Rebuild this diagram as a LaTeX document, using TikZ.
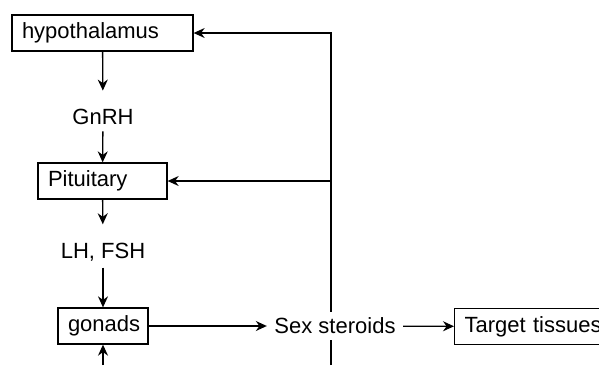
\documentclass[tikz,border=0pt]{standalone}
\usepackage{fontspec}
\setmainfont{Liberation Sans}
\usetikzlibrary{arrows.meta,positioning}

\begin{document}
\begin{tikzpicture}[
  x=0.5pt, y=-0.5pt,
  every node/.style={font=\fontsize{11}{13}\selectfont},
  organ/.style={draw, line width=0.65pt, minimum height=18pt,
                inner xsep=5pt, align=left},
  hormone/.style={inner xsep=3.5pt, inner ysep=3pt},
  line width=0.65pt,
  >={Stealth[length=5.5pt,width=5pt]}
]
\useasboundingbox (0,0) rectangle (599,365);

\node[organ, text width=80.5pt] (hyp) at (102.5,33) {hypothalamus};
\node[hormone] (gnrh) at (103,117) {GnRH};
\node[organ, text width=54.5pt] (pit) at (102.5,181) {Pituitary};
\node[hormone] (lhfsh) at (103,252) {LH, FSH};
\node[organ, text width=35pt, align=center] (gon) at (103,326) {gonads};

% feedback loop
\coordinate (fb) at (331,365);
\coordinate (gin) at (103,365);
\draw[->] (fb) |- (hyp.east);
\draw[->] (fb |- pit.east) -- (pit.east);

\node[hormone, fill=white] (ster) at (335,326) {Sex steroids};
\node[organ, text width=80pt, anchor=west] (target) at (454,326.5) {Target tissues};

\draw[->, shorten >=6pt] (hyp) -- (gnrh);
\draw[->] (gnrh) -- (pit);
\draw[->, shorten >=6pt] (pit) -- (lhfsh);
\draw[->] (lhfsh) -- (gon);
\draw[->] (gon) -- (ster);
\draw[->] (ster) -- (target);
\draw[->] (gin) -- (gon);

\end{tikzpicture}
\end{document}
